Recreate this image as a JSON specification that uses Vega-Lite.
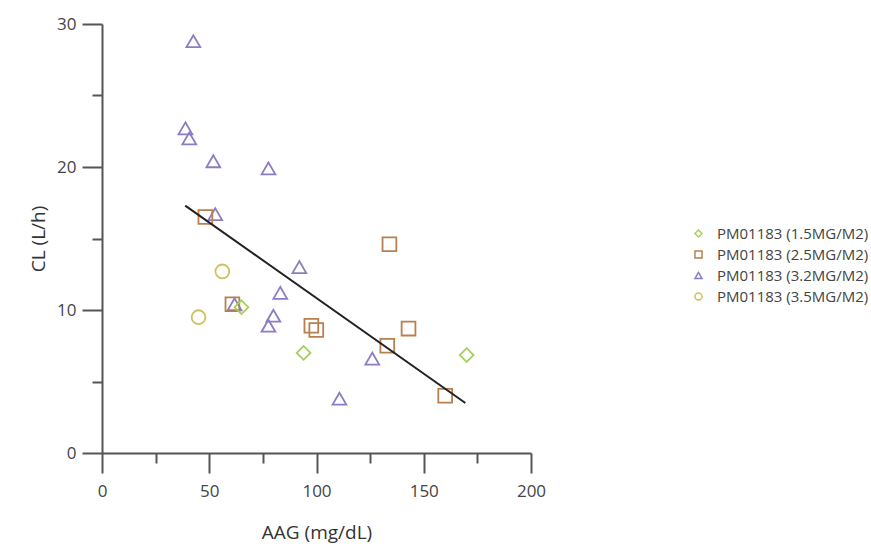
{
  "$schema": "https://vega.github.io/schema/vega-lite/v6.json",
  "width": 429,
  "height": 429,
  "autosize": {"type": "none"},
  "padding": {"left": 102, "top": 24, "right": 340, "bottom": 93},
  "background": "white",
  "config": {
    "view": {"stroke": null},
    "font": "Open Sans",
    "axis": {
      "grid": false,
      "domainColor": "#555555",
      "domainWidth": 2,
      "tickColor": "#555555",
      "tickWidth": 2,
      "labelFont": "Open Sans",
      "labelFontSize": 17,
      "labelColor": "#444444",
      "labelFlush": false,
      "titleFont": "Open Sans",
      "titleFontSize": 19,
      "titleFontWeight": "normal",
      "titleColor": "#333333"
    },
    "legend": {
      "labelFont": "Open Sans",
      "labelFontSize": 15,
      "labelColor": "#444444"
    }
  },
  "datasets": {
    "pts": [
      {"group": "PM01183 (3.2MG/M2)", "aag": 42.6, "cl": 28.8},
      {"group": "PM01183 (3.2MG/M2)", "aag": 38.9, "cl": 22.7},
      {"group": "PM01183 (3.2MG/M2)", "aag": 40.7, "cl": 22.0},
      {"group": "PM01183 (3.2MG/M2)", "aag": 51.9, "cl": 20.4},
      {"group": "PM01183 (3.2MG/M2)", "aag": 77.6, "cl": 19.9},
      {"group": "PM01183 (3.2MG/M2)", "aag": 52.8, "cl": 16.7},
      {"group": "PM01183 (3.2MG/M2)", "aag": 92.0, "cl": 13.0},
      {"group": "PM01183 (3.2MG/M2)", "aag": 83.1, "cl": 11.2},
      {"group": "PM01183 (3.2MG/M2)", "aag": 61.8, "cl": 10.4},
      {"group": "PM01183 (3.2MG/M2)", "aag": 79.9, "cl": 9.6},
      {"group": "PM01183 (3.2MG/M2)", "aag": 77.6, "cl": 8.9},
      {"group": "PM01183 (3.2MG/M2)", "aag": 126.0, "cl": 6.6},
      {"group": "PM01183 (3.2MG/M2)", "aag": 110.7, "cl": 3.8},
      {"group": "PM01183 (2.5MG/M2)", "aag": 48.2, "cl": 16.5},
      {"group": "PM01183 (2.5MG/M2)", "aag": 134.0, "cl": 14.6},
      {"group": "PM01183 (2.5MG/M2)", "aag": 60.8, "cl": 10.4},
      {"group": "PM01183 (2.5MG/M2)", "aag": 97.6, "cl": 8.9},
      {"group": "PM01183 (2.5MG/M2)", "aag": 99.9, "cl": 8.6},
      {"group": "PM01183 (2.5MG/M2)", "aag": 142.9, "cl": 8.7},
      {"group": "PM01183 (2.5MG/M2)", "aag": 133.0, "cl": 7.5},
      {"group": "PM01183 (2.5MG/M2)", "aag": 160.0, "cl": 4.0},
      {"group": "PM01183 (1.5MG/M2)", "aag": 65.0, "cl": 10.2},
      {"group": "PM01183 (1.5MG/M2)", "aag": 94.0, "cl": 7.0},
      {"group": "PM01183 (1.5MG/M2)", "aag": 170.0, "cl": 6.85},
      {"group": "PM01183 (3.5MG/M2)", "aag": 56.1, "cl": 12.7},
      {"group": "PM01183 (3.5MG/M2)", "aag": 45.0, "cl": 9.5}
    ],
    "fit": [
      {"aag": 38.8, "cl": 17.3},
      {"aag": 169.4, "cl": 3.5}
    ]
  },
  "resolve": {"axis": {"x": "independent", "y": "independent"}},
  "layer": [
    {
      "data": {"name": "pts"},
      "mark": {"type": "point", "filled": false, "strokeWidth": 1.8, "opacity": 1, "size": 190},
      "encoding": {
        "x": {
          "field": "aag", "type": "quantitative",
          "scale": {"domain": [0, 200], "nice": false, "zero": false},
          "axis": {
            "orient": "bottom",
            "title": "AAG (mg/dL)",
            "values": [0, 50, 100, 150, 200],
            "tickSize": 20,
            "labelPadding": 10,
            "titlePadding": 24
          }
        },
        "y": {
          "field": "cl", "type": "quantitative",
          "scale": {"domain": [0, 30], "nice": false, "zero": false},
          "axis": {
            "orient": "left",
            "title": "CL (L/h)",
            "values": [0, 10, 20, 30],
            "tickSize": 20,
            "labelPadding": 6,
            "titlePadding": 8
          }
        },
        "color": {
          "field": "group", "type": "nominal",
          "scale": {
            "domain": ["PM01183 (1.5MG/M2)", "PM01183 (2.5MG/M2)", "PM01183 (3.2MG/M2)", "PM01183 (3.5MG/M2)"],
            "range": ["#a6d05a", "#b8804e", "#8d7cc2", "#cdc25c"]
          },
          "legend": {
            "title": null,
            "orient": "none",
            "legendX": 589,
            "legendY": 202,
            "padding": 0,
            "symbolSize": 50,
            "symbolStrokeWidth": 1.5,
            "symbolFillColor": "transparent",
            "rowPadding": 5,
            "labelOffset": 11
          }
        },
        "shape": {
          "field": "group", "type": "nominal",
          "scale": {
            "domain": ["PM01183 (1.5MG/M2)", "PM01183 (2.5MG/M2)", "PM01183 (3.2MG/M2)", "PM01183 (3.5MG/M2)"],
            "range": ["diamond", "square", "triangle-up", "circle"]
          },
          "legend": null
        }
      }
    },
    {
      "data": {"name": "fit"},
      "mark": {"type": "line", "color": "#222222", "strokeWidth": 2},
      "encoding": {
        "x": {
          "field": "aag", "type": "quantitative",
          "axis": {
            "orient": "bottom",
            "title": null,
            "values": [25, 75, 125, 175],
            "labels": false,
            "domain": false,
            "tickSize": 10
          }
        },
        "y": {
          "field": "cl", "type": "quantitative",
          "axis": {
            "orient": "left",
            "title": null,
            "values": [5, 15, 25],
            "labels": false,
            "domain": false,
            "tickSize": 10
          }
        }
      }
    }
  ]
}
